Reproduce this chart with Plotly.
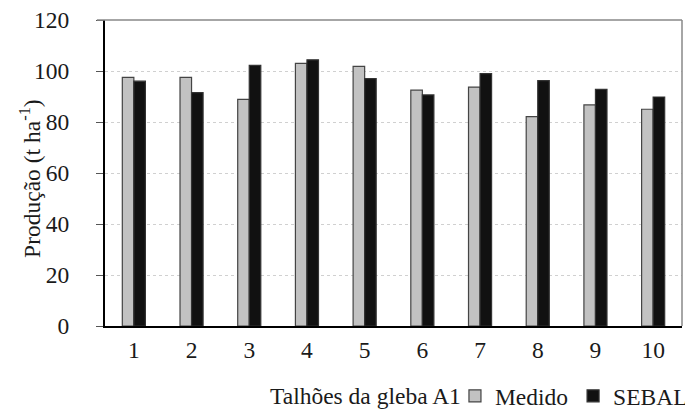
import plotly.graph_objects as go

categorias = ["1", "2", "3", "4", "5", "6", "7", "8", "9", "10"]
medido = [97.5, 97.5, 88.9, 103.0, 101.8, 92.5, 93.7, 82.1, 86.7, 85.0]
sebal = [96.0, 91.5, 102.2, 104.4, 97.0, 90.6, 99.0, 96.2, 92.8, 89.8]
y_ticks = [0, 20, 40, 60, 80, 100, 120]

FONT = "Liberation Serif"
FS = 23.5
TXT = "#1a1a1a"

fig = go.Figure()
fig.add_trace(go.Bar(
    x=categorias, y=medido, name="Medido",
    marker=dict(color="#c2c2c2", line=dict(color="#444444", width=1.2)),
))
fig.add_trace(go.Bar(
    x=categorias, y=sebal, name="SEBAL",
    marker=dict(color="#111111", line=dict(color="#333333", width=1.2)),
))

# page body has an 8px default margin; figure is sized to fit the 693x411 window
fig.update_layout(
    width=685, height=403,
    margin=dict(l=97, r=11, t=12, b=85, pad=0, autoexpand=False),
    paper_bgcolor="white", plot_bgcolor="white",
    barmode="group", bargap=0.6, bargroupgap=0,
    font=dict(family=FONT, size=FS, color=TXT),
    showlegend=True,
    legend=dict(
        orientation="h", x=1.019, xanchor="right", y=-0.229, yanchor="middle",
        font=dict(family=FONT, size=FS, color=TXT),
        itemwidth=30, tracegroupgap=0, bgcolor="rgba(0,0,0,0)",
        itemclick=False, borderwidth=0,
    ),
    xaxis=dict(
        showgrid=False, showline=True, linecolor="black", linewidth=2,
        ticks="", tickfont=dict(family=FONT, size=FS, color=TXT),
        ticklabelstandoff=2,
        fixedrange=True, automargin=False,
    ),
    yaxis=dict(
        range=[0, 120], tickvals=y_ticks, showgrid=True,
        gridcolor="#d0d0d0", griddash="dot", gridwidth=1,
        showline=True, linecolor="black", linewidth=2,
        ticks="outside", ticklen=7, tickcolor="#555555", tickwidth=1,
        tickfont=dict(family=FONT, size=FS, color=TXT),
        ticklabelstandoff=22, ticklabeloverflow="allow",
        zeroline=False, fixedrange=True, automargin=False,
    ),
    annotations=[
        dict(
            text="Talhões da gleba A1", xref="paper", yref="paper",
            x=0.452, y=-0.229, xanchor="center", yanchor="middle", showarrow=False,
            font=dict(family=FONT, size=FS, color=TXT),
        ),
        dict(
            text="Produção (t ha<sup>-1</sup>)", xref="paper", yref="paper",
            x=-0.130, y=0.484, xanchor="center", yanchor="middle", showarrow=False,
            textangle=-90, font=dict(family=FONT, size=FS, color=TXT),
        ),
    ],
    shapes=[
        dict(type="line", xref="paper", yref="paper", x0=-0.014, x1=1, y0=1, y1=1,
             line=dict(color="#888888", width=1.5)),
        dict(type="line", xref="paper", yref="paper", x0=1, x1=1, y0=0, y1=1,
             line=dict(color="#888888", width=1.5)),
    ],
)

fig.write_html("out.html")
